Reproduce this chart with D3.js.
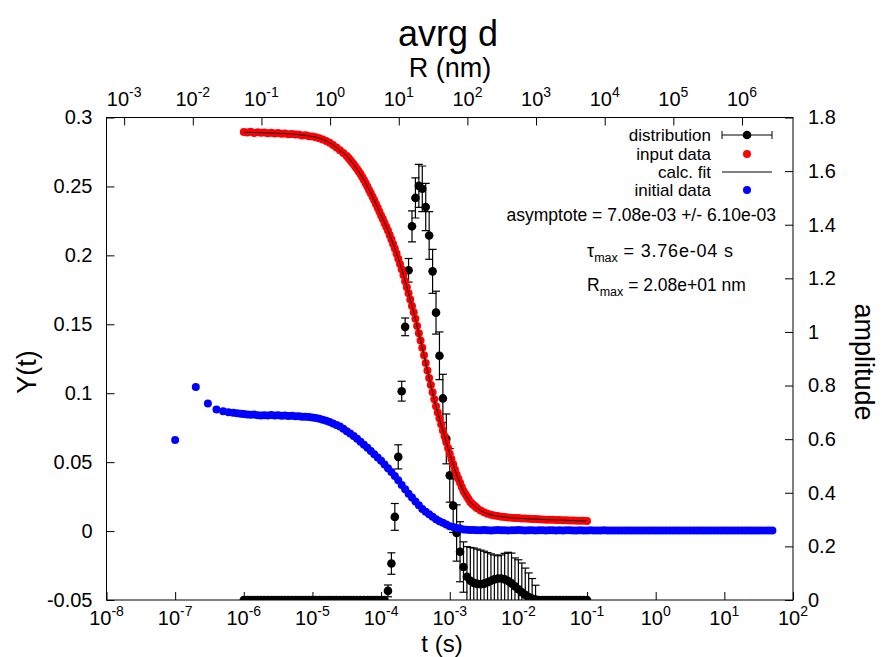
<!DOCTYPE html>
<html><head><meta charset="utf-8">
<script src="https://cdn.jsdelivr.net/npm/d3@7"></script>
<style>
body{margin:0;background:#fff;}
svg text{font-family:"Liberation Sans",Arial,Helvetica,sans-serif;fill:#000;}
</style></head><body>
<svg id="chart" width="882" height="657"></svg>
<script>
// ---------- data (log10 t, value) ----------
const xDecades = [-8,-7,-6,-5,-4,-3,-2,-1,0,1,2];
const x2Decades = [-3,-2,-1,0,1,2,3,4,5,6];
const yTicks = [-0.05,0,0.05,0.1,0.15,0.2,0.25,0.3];
const yTickLabels = ["-0.05","0","0.05","0.1","0.15","0.2","0.25","0.3"];
const y2Ticks = [0,0.2,0.4,0.6,0.8,1,1.2,1.4,1.6,1.8];
const y2TickLabels = ["0","0.2","0.4","0.6","0.8","1","1.2","1.4","1.6","1.8"];
const tauMax = 3.76e-4, rMax = 20.8;   // R(nm) = t(s) * rMax / tauMax

// distribution: [log10 t, amplitude, error]
const distribution = [
[-6.00,0,0],[-5.95,0,0],[-5.90,0,0],[-5.85,0,0],[-5.80,0,0],[-5.75,0,0],[-5.70,0,0],[-5.65,0,0],[-5.60,0,0],[-5.55,0,0],
[-5.50,0,0],[-5.45,0,0],[-5.40,0,0],[-5.35,0,0],[-5.30,0,0],[-5.25,0,0],[-5.20,0,0],[-5.15,0,0],[-5.10,0,0],[-5.05,0,0],
[-5.00,0,0],[-4.95,0,0],[-4.90,0,0],[-4.85,0,0],[-4.80,0,0],[-4.75,0,0],[-4.70,0,0],[-4.65,0,0],[-4.60,0,0],[-4.55,0,0],
[-4.50,0,0],[-4.45,0,0],[-4.40,0,0],[-4.35,0,0],[-4.30,0,0],[-4.25,0,0],[-4.20,0,0],[-4.15,0,0],[-4.10,0,0],[-4.05,0,0],
[-4.00,0,0],[-3.95,0,0],[-3.90,0.034,0.022],[-3.85,0.136,0.040],[-3.80,0.310,0.050],[-3.75,0.534,0.045],[-3.70,0.779,0.037],
[-3.65,1.019,0.033],[-3.60,1.230,0.044],[-3.55,1.394,0.058],[-3.50,1.500,0.075],[-3.45,1.545,0.080],[-3.40,1.534,0.085],
[-3.35,1.466,0.088],[-3.30,1.360,0.089],[-3.25,1.226,0.082],[-3.20,1.072,0.080],[-3.15,0.911,0.089],[-3.10,0.752,0.090],
[-3.05,0.601,0.093],[-3.00,0.465,0.100],[-2.95,0.352,0.100],[-2.90,0.250,0.105],[-2.85,0.180,0.112],[-2.80,0.123,0.094],
[-2.75,0.087,0.112],[-2.70,0.072,0.124],[-2.65,0.064,0.130],[-2.60,0.060,0.130],[-2.55,0.059,0.127],[-2.50,0.061,0.121],
[-2.45,0.066,0.111],[-2.40,0.072,0.100],[-2.35,0.077,0.091],[-2.30,0.080,0.085],[-2.25,0.080,0.088],[-2.20,0.077,0.097],
[-2.15,0.071,0.107],[-2.10,0.062,0.113],[-2.05,0.051,0.106],[-2.00,0.040,0.110],[-1.95,0.029,0.109],[-1.90,0.019,0.100],
[-1.85,0.011,0.090],[-1.80,0.005,0.075],[-1.75,0.002,0.053],[-1.70,0,0],[-1.65,0,0],[-1.60,0,0],[-1.55,0,0],[-1.50,0,0],
[-1.45,0,0],[-1.40,0,0],[-1.35,0,0],[-1.30,0,0],[-1.25,0,0],[-1.20,0,0],[-1.15,0,0],[-1.10,0,0],[-1.05,0,0],[-1.00,0,0]
];

// input data (red): [log10 t, Y]
const inputData = [
[-6.00,0.2895],[-5.95,0.2891],[-5.90,0.2896],[-5.85,0.2888],[-5.80,0.2893],[-5.75,0.2889],[-5.70,0.2892],[-5.65,0.2885],
[-5.60,0.2890],[-5.55,0.2884],[-5.50,0.2887],[-5.45,0.2882],[-5.40,0.2884],[-5.35,0.2878],[-5.30,0.2881],[-5.25,0.2876],
[-5.20,0.2877],[-5.15,0.2870],[-5.10,0.2871],[-5.05,0.2864],[-5.00,0.2862],[-4.95,0.2857],[-4.90,0.2850],[-4.85,0.2841],
[-4.80,0.2830],[-4.75,0.2816],[-4.70,0.2800],[-4.65,0.2782],[-4.60,0.2762],[-4.55,0.2742],
[-4.500,0.2720],[-4.475,0.2706],[-4.450,0.2691],[-4.425,0.2676],[-4.400,0.2660],[-4.375,0.2643],[-4.350,0.2626],[-4.325,0.2608],
[-4.300,0.2590],[-4.275,0.2568],[-4.250,0.2546],[-4.225,0.2523],[-4.200,0.2500],[-4.175,0.2475],[-4.150,0.2450],[-4.125,0.2425],
[-4.100,0.2400],[-4.075,0.2373],[-4.050,0.2345],[-4.025,0.2318],[-4.000,0.2290],[-3.975,0.2263],[-3.950,0.2235],[-3.925,0.2208],
[-3.900,0.2180],[-3.875,0.2148],[-3.850,0.2116],[-3.825,0.2083],[-3.800,0.2050],[-3.775,0.2013],[-3.750,0.1976],[-3.725,0.1938],
[-3.700,0.1900],[-3.675,0.1857],[-3.650,0.1813],[-3.625,0.1769],[-3.600,0.1725],[-3.575,0.1679],[-3.550,0.1633],[-3.525,0.1587],
[-3.500,0.1540],[-3.475,0.1488],[-3.450,0.1435],[-3.425,0.1383],[-3.400,0.1330],[-3.375,0.1275],[-3.350,0.1220],[-3.325,0.1165],
[-3.300,0.1110],[-3.275,0.1059],[-3.250,0.1007],[-3.225,0.0956],[-3.200,0.0905],[-3.175,0.0861],[-3.150,0.0818],[-3.125,0.0774],
[-3.100,0.0730],[-3.075,0.0688],[-3.050,0.0645],[-3.025,0.0603],[-3.000,0.0560],[-2.975,0.0522],[-2.950,0.0485],[-2.925,0.0447],
[-2.900,0.0410],[-2.875,0.0380],[-2.850,0.0350],[-2.825,0.0320],[-2.800,0.0290],[-2.775,0.0270],[-2.750,0.0250],[-2.725,0.0230],
[-2.700,0.0210],[-2.675,0.0199],[-2.650,0.0188],[-2.625,0.0176],[-2.600,0.0165],
[-2.55,0.0150],[-2.50,0.0137],[-2.45,0.0126],[-2.40,0.0119],[-2.35,0.0113],[-2.30,0.0109],[-2.25,0.0104],[-2.20,0.0102],
[-2.15,0.0099],[-2.10,0.0097],[-2.05,0.0095],[-2.00,0.0094],[-1.95,0.0092],[-1.90,0.0091],[-1.85,0.0089],[-1.80,0.0088],
[-1.75,0.0087],[-1.70,0.0085],[-1.65,0.0084],[-1.60,0.0083],[-1.55,0.0082],[-1.50,0.0082],[-1.45,0.0081],[-1.40,0.0080],
[-1.35,0.0079],[-1.30,0.0078],[-1.25,0.0077],[-1.20,0.0076],[-1.15,0.0075],[-1.10,0.0074],[-1.05,0.0074],[-1.00,0.0073]
];

// calc. fit (black line): [log10 t, Y]
const calcFit = [
[-6.00,0.2893],[-5.75,0.2890],[-5.50,0.2885],[-5.25,0.2878],[-5.00,0.2862],[-4.90,0.2850],[-4.80,0.2830],[-4.70,0.2800],
[-4.60,0.2762],[-4.50,0.2720],[-4.40,0.2660],[-4.30,0.2590],[-4.20,0.2500],[-4.10,0.2400],[-4.00,0.2290],[-3.90,0.2180],
[-3.80,0.2050],[-3.70,0.1900],[-3.60,0.1725],[-3.50,0.1540],[-3.40,0.1330],[-3.30,0.1110],[-3.20,0.0905],[-3.10,0.0730],
[-3.00,0.0560],[-2.90,0.0410],[-2.80,0.0290],[-2.70,0.0210],[-2.60,0.0165],[-2.50,0.0135],[-2.40,0.0118],[-2.30,0.0108],
[-2.20,0.0101],[-2.00,0.0093],[-1.80,0.0088],[-1.60,0.0083],[-1.40,0.0080],[-1.20,0.0076],[-1.00,0.0073]
];

// initial data (blue): [log10 t, Y]
const initialData = [
[-7.000,0.0660],[-6.699,0.1045],[-6.523,0.0925],[-6.398,0.0882],[-6.301,0.0870],[-6.222,0.0862],[-6.155,0.0858],[-6.097,0.0855],[-6.046,0.0851],
[-6.00,0.0849],[-5.95,0.0846],[-5.90,0.0843],[-5.85,0.0845],[-5.80,0.0840],[-5.75,0.0838],[-5.70,0.0841],[-5.65,0.0839],[-5.60,0.0842],
[-5.55,0.0838],[-5.50,0.0840],[-5.45,0.0837],[-5.40,0.0838],[-5.35,0.0835],[-5.30,0.0836],[-5.25,0.0832],[-5.20,0.0833],[-5.15,0.0830],
[-5.10,0.0830],[-5.05,0.0827],[-5.00,0.0824],[-4.95,0.0820],[-4.90,0.0815],[-4.85,0.0808],[-4.80,0.0800],[-4.75,0.0791],[-4.70,0.0781],
[-4.65,0.0770],[-4.60,0.0758],[-4.55,0.0742],[-4.50,0.0725],[-4.45,0.0708],[-4.40,0.0690],[-4.35,0.0669],[-4.30,0.0648],[-4.25,0.0627],
[-4.20,0.0605],[-4.15,0.0581],[-4.10,0.0558],[-4.05,0.0534],[-4.00,0.0510],[-3.95,0.0483],[-3.90,0.0455],[-3.85,0.0428],[-3.80,0.0400],
[-3.75,0.0368],[-3.70,0.0335],[-3.65,0.0303],[-3.60,0.0270],[-3.55,0.0243],[-3.50,0.0215],[-3.45,0.0188],[-3.40,0.0160],[-3.35,0.0141],
[-3.30,0.0122],[-3.25,0.0104],[-3.20,0.0085],[-3.15,0.0072],[-3.10,0.0060],[-3.05,0.0047],[-3.00,0.0035],[-2.95,0.0029],[-2.90,0.0023],
[-2.85,0.0018],[-2.80,0.0012],[-2.75,0.0010],[-2.70,0.0008],[-2.65,0.0007],[-2.60,0.0006],[-2.55,0.0006],[-2.50,0.0007],[-2.45,0.0006],
[-2.40,0.0005],[-2.35,0.0006],[-2.30,0.0007],[-2.25,0.0006],[-2.20,0.0006],[-2.15,0.0005],[-2.10,0.0006],[-2.05,0.0006],[-2.00,0.0007],
[-1.95,0.0006],[-1.90,0.0005],[-1.85,0.0006],[-1.80,0.0006],[-1.75,0.0005],[-1.70,0.0006],[-1.65,0.0006],[-1.60,0.0005],[-1.55,0.0006],
[-1.50,0.0006],[-1.45,0.0005],[-1.40,0.0006],[-1.35,0.0005],[-1.30,0.0006],[-1.25,0.0006],[-1.20,0.0005],[-1.15,0.0005],[-1.10,0.0006],
[-1.05,0.0005],[-1.00,0.0005],[-0.95,0.0006],[-0.90,0.0005],[-0.85,0.0005],[-0.80,0.0005],[-0.75,0.0006],[-0.70,0.0005],[-0.65,0.0005],
[-0.60,0.0005],[-0.55,0.0005],[-0.50,0.0005],[-0.45,0.0005],[-0.40,0.0005],[-0.35,0.0005],[-0.30,0.0005],[-0.25,0.0005],[-0.20,0.0005],
[-0.15,0.0005],[-0.10,0.0005],[-0.05,0.0005],[0.00,0.0005],[0.05,0.0005],[0.10,0.0005],[0.15,0.0005],[0.20,0.0005],[0.25,0.0005],
[0.30,0.0005],[0.35,0.0005],[0.40,0.0005],[0.45,0.0005],[0.50,0.0005],[0.55,0.0005],[0.60,0.0005],[0.65,0.0005],[0.70,0.0005],
[0.75,0.0005],[0.80,0.0005],[0.85,0.0005],[0.90,0.0005],[0.95,0.0005],[1.00,0.0005],[1.05,0.0005],[1.10,0.0005],[1.15,0.0005],
[1.20,0.0005],[1.25,0.0005],[1.30,0.0005],[1.35,0.0005],[1.40,0.0005],[1.45,0.0005],[1.50,0.0005],[1.55,0.0005],[1.60,0.0005],
[1.65,0.0005],[1.70,0.0005]
];

const legendLabels = ["distribution","input data","calc. fit","initial data"];

// ---------- layout ----------
const L = 106.5, R = 793, T = 117.5, B = 600;
const svg = d3.select("#chart");
const p10 = e => Math.pow(10, e);

const x = d3.scaleLog().domain([1e-8, 1e2]).range([L, R]);
const x2 = d3.scaleLog().domain([1e-8 * rMax / tauMax, 1e2 * rMax / tauMax]).range([L, R]);
const y = d3.scaleLinear().domain([-0.05, 0.3]).range([B, T]);
const y2 = d3.scaleLinear().domain([0, 1.8]).range([B, T]);

svg.append("defs").append("clipPath").attr("id","clip")
  .append("rect").attr("x",L).attr("y",T).attr("width",R-L).attr("height",B-T);

// axes (ticks inward)
const gx = svg.append("g").attr("transform",`translate(0,${B})`)
  .call(d3.axisBottom(x).tickValues(xDecades.map(p10)).tickSize(-8).tickFormat(""));
const gx2 = svg.append("g").attr("transform",`translate(0,${T})`)
  .call(d3.axisTop(x2).tickValues(x2Decades.map(p10)).tickSize(-8).tickFormat(""));
const gy = svg.append("g").attr("transform",`translate(${L},0)`)
  .call(d3.axisLeft(y).tickValues(yTicks).tickSize(-8).tickPadding(14)
    .tickFormat((d,i)=>yTickLabels[i]));
const gy2 = svg.append("g").attr("transform",`translate(${R},0)`)
  .call(d3.axisRight(y2).tickValues(y2Ticks).tickSize(-8).tickPadding(15)
    .tickFormat((d,i)=>y2TickLabels[i]));
[gx,gx2,gy,gy2].forEach(g=>{
  g.select(".domain").remove();
  g.selectAll("line").attr("stroke","#000").attr("stroke-width",1);
  g.selectAll("text").style("font-size","20px").attr("fill","#000");
});

// decade labels 10^n
function decadeLabels(scale, decs, yBase){
  const t = svg.append("g").selectAll("text").data(decs).join("text")
    .attr("x", d=>scale(p10(d))).attr("y", yBase)
    .attr("text-anchor","middle").style("font-size","20px");
  t.append("tspan").text("10");
  t.append("tspan").attr("dy",-9).style("font-size","14px").text(d=>String(d));
}
decadeLabels(x, xDecades, 625);
decadeLabels(x2, x2Decades, 106);

// frame
svg.append("rect").attr("x",L).attr("y",T).attr("width",R-L).attr("height",B-T)
  .attr("fill","none").attr("stroke","#000").attr("stroke-width",1);

// titles
svg.append("text").attr("x",448).attr("y",46).attr("text-anchor","middle").style("font-size","36px").text("avrg d");
svg.append("text").attr("x",450).attr("y",77).attr("text-anchor","middle").style("font-size","27px").text("R (nm)");
svg.append("text").attr("x",442).attr("y",652).attr("text-anchor","middle").style("font-size","24px").text("t (s)");
svg.append("text").attr("transform","translate(36,372) rotate(-90)").attr("text-anchor","middle").style("font-size","27px").text("Y(t)");
svg.append("text").attr("transform","translate(855,362) rotate(90)").attr("text-anchor","middle").style("font-size","27px").text("amplitude");

// ---------- data marks ----------
const plot = svg.append("g").attr("clip-path","url(#clip)");

// distribution with error bars
const dg = plot.append("g");
const withErr = distribution.filter(d=>d[2]>0);
dg.selectAll("line.eb").data(withErr).join("line").attr("class","eb")
  .attr("x1",d=>x(p10(d[0]))).attr("x2",d=>x(p10(d[0])))
  .attr("y1",d=>y2(d[1]-d[2])).attr("y2",d=>y2(d[1]+d[2]))
  .attr("stroke","#000").attr("stroke-width",1.2);
dg.selectAll("line.cap1").data(withErr).join("line").attr("class","cap1")
  .attr("x1",d=>x(p10(d[0]))-4).attr("x2",d=>x(p10(d[0]))+4)
  .attr("y1",d=>y2(d[1]+d[2])).attr("y2",d=>y2(d[1]+d[2]))
  .attr("stroke","#000").attr("stroke-width",1.2);
dg.selectAll("line.cap2").data(withErr).join("line").attr("class","cap2")
  .attr("x1",d=>x(p10(d[0]))-4).attr("x2",d=>x(p10(d[0]))+4)
  .attr("y1",d=>y2(d[1]-d[2])).attr("y2",d=>y2(d[1]-d[2]))
  .attr("stroke","#000").attr("stroke-width",1.2);
dg.selectAll("circle").data(distribution).join("circle")
  .attr("cx",d=>x(p10(d[0]))).attr("cy",d=>y2(d[1])).attr("r",4.3).attr("fill","#000");

// input data (red)
plot.append("g").selectAll("circle").data(inputData).join("circle")
  .attr("cx",d=>x(p10(d[0]))).attr("cy",d=>y(d[1])).attr("r",4).attr("fill","#f00");

// calc fit
plot.append("path").datum(calcFit)
  .attr("d", d3.line().x(d=>x(p10(d[0]))).y(d=>y(d[1])).curve(d3.curveMonotoneX))
  .attr("fill","none").attr("stroke","#000").attr("stroke-width",1);

// initial data (blue)
plot.append("g").selectAll("circle").data(initialData).join("circle")
  .attr("cx",d=>x(p10(d[0]))).attr("cy",d=>y(d[1])).attr("r",4).attr("fill","#00f");

// ---------- legend ----------
const lg = svg.append("g");
const rowsY = [135, 154, 172, 190];
lg.selectAll("text").data(legendLabels).join("text")
  .attr("x",711).attr("y",(d,i)=>rowsY[i]).attr("dy","0.35em")
  .attr("text-anchor","end").style("font-size","17px").text(d=>d);
// distribution sample
lg.append("line").attr("x1",722).attr("x2",772).attr("y1",rowsY[0]).attr("y2",rowsY[0]).attr("stroke","#000");
lg.append("line").attr("x1",722).attr("x2",722).attr("y1",rowsY[0]-4).attr("y2",rowsY[0]+4).attr("stroke","#000");
lg.append("line").attr("x1",772).attr("x2",772).attr("y1",rowsY[0]-4).attr("y2",rowsY[0]+4).attr("stroke","#000");
lg.append("circle").attr("cx",747).attr("cy",rowsY[0]).attr("r",4.3).attr("fill","#000");
lg.append("circle").attr("cx",747).attr("cy",rowsY[1]).attr("r",4).attr("fill","#f00");
lg.append("line").attr("x1",722).attr("x2",772).attr("y1",rowsY[2]).attr("y2",rowsY[2]).attr("stroke","#000");
lg.append("circle").attr("cx",747).attr("cy",rowsY[3]).attr("r",4).attr("fill","#00f");

// annotations
svg.append("text").attr("x",776).attr("y",215).attr("dy","0.35em").attr("text-anchor","end")
  .style("font-size","17.5px").text("asymptote = 7.08e-03 +/- 6.10e-03");
const t1 = svg.append("text").attr("x",587).attr("y",251).attr("dy","0.35em").style("font-size","18px");
t1.append("tspan").text("τ");
t1.append("tspan").attr("dy",5).style("font-size","12.5px").text("max");
t1.append("tspan").attr("dy",-5).style("letter-spacing","0.8px").text(" = 3.76e-04 s");
const t2 = svg.append("text").attr("x",587).attr("y",285).attr("dy","0.35em").style("font-size","17.5px");
t2.append("tspan").text("R");
t2.append("tspan").attr("dy",5).style("font-size","12.5px").text("max");
t2.append("tspan").attr("dy",-5).text(" = 2.08e+01 nm");
</script>
</body></html>
